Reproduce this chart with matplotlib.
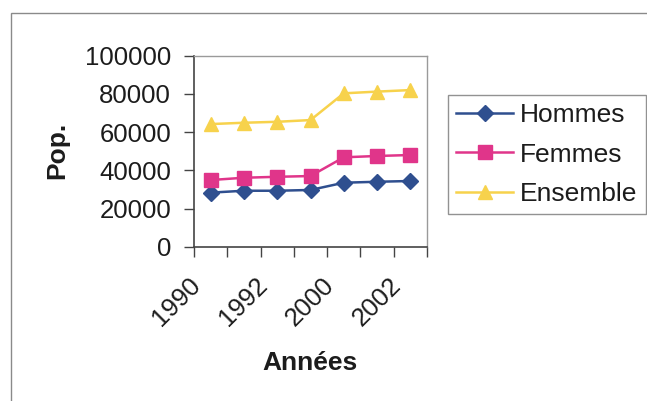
import matplotlib.pyplot as plt
from matplotlib.patches import Rectangle
from matplotlib.transforms import ScaledTranslation

# Donnees
annees = ['1990', '1991', '1992', '1999', '2000', '2001', '2002']
hommes = [28300, 29300, 29300, 29700, 33500, 34000, 34400]
femmes = [34900, 36100, 36600, 37000, 46800, 47500, 48000]
ensemble = [64200, 64900, 65400, 66300, 80300, 81200, 82000]

plt.rcParams['font.family'] = ['Liberation Sans', 'DejaVu Sans']
texte = '#1c1c1c'

fig = plt.figure(figsize=(6.47, 4.01), dpi=100)
ax = fig.add_axes([194 / 647, 1 - 246.7 / 401, 233 / 647, 191 / 401])

x = list(range(len(annees)))
ax.plot(x, hommes, color='#2f4f8f', lw=1.8, marker='D', ms=8.5, label='Hommes')
ax.plot(x, femmes, color='#e0358a', lw=1.8, marker='s', ms=9.5, label='Femmes')
ax.plot(x, ensemble, color='#f7d24c', lw=1.8, marker='^', ms=10.5, label='Ensemble')

ax.set_xlim(-0.5, len(annees) - 0.5)
ax.set_ylim(0, 100000)
ax.set_yticks(range(0, 100001, 20000))
ax.tick_params(axis='y', length=7, width=1, color='#444444', pad=9.5,
               labelsize=18.5, labelcolor=texte)

# etiquettes une annee sur deux, graduations entre les categories
ax.set_xticks(x[::2])
ax.set_xticklabels(annees[::2], rotation=45, ha='right', va='top',
                   rotation_mode='anchor')
ax.set_xticks([i - 0.5 for i in range(len(annees) + 1)], minor=True)
ax.tick_params(axis='x', which='major', length=0, pad=19, labelsize=18.5,
               labelcolor=texte)
ax.tick_params(axis='x', which='minor', length=7, width=1, color='#444444')
decal = ScaledTranslation(-22 / 100, 0, fig.dpi_scale_trans)
for lab in ax.get_xticklabels():
    lab.set_transform(lab.get_transform() + decal)

for s in ['top', 'right']:
    ax.spines[s].set_color('#9a9a9a')
    ax.spines[s].set_linewidth(1)
for s in ['left', 'bottom']:
    ax.spines[s].set_color('#444444')
    ax.spines[s].set_linewidth(1.2)

fig.text(57 / 647, 1 - 150 / 401, 'Pop.', rotation=90, ha='center', va='center',
         fontsize=19, fontweight='bold', color=texte)
fig.text(310 / 647, 1 - 363 / 401, 'Années', ha='center', va='center',
         fontsize=19, fontweight='bold', color=texte)

leg = fig.legend(loc='center', bbox_to_anchor=(448 / 647, 1 - 214 / 401, 198 / 647, 119 / 401),
                 fontsize=19, frameon=True, fancybox=False, handlelength=2.15,
                 handletextpad=0.27, labelspacing=0.58, borderpad=0.3,
                 borderaxespad=0, labelcolor=texte)
leg.get_frame().set_edgecolor('#777777')
leg.get_frame().set_linewidth(1)

fig.patches.append(Rectangle((11 / 647, -0.1), 1.0, 1 - 13 / 401 + 0.1,
                             transform=fig.transFigure, fill=False,
                             edgecolor='#8a8a8a', lw=1))

fig.savefig('out.png', dpi=100)
